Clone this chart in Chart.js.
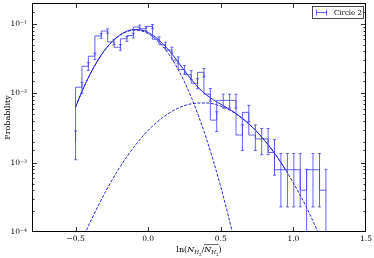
<!DOCTYPE html>
<html>
<head>
<meta charset="utf-8">
<script src="https://cdn.jsdelivr.net/npm/chart.js@4.4.1/dist/chart.umd.min.js"></script>
<style>
  html, body { margin: 0; padding: 0; background: #fff; }
  #wrap { width: 374px; height: 258px; }
</style>
</head>
<body>
<div id="wrap"><canvas id="chart" width="374" height="258"></canvas></div>
<script>
// histogram of ln(N/<N>) : bin position, probability and 1 sigma error
const histX = [-0.500, -0.456, -0.412, -0.367, -0.323, -0.279, -0.235, -0.191, -0.146, -0.102,
               -0.058, -0.014, 0.030, 0.075, 0.119, 0.163, 0.207, 0.251, 0.296, 0.340,
               0.384, 0.428, 0.472, 0.517, 0.561, 0.605, 0.649, 0.693, 0.738, 0.782,
               0.826, 0.870, 0.914, 0.959, 1.003, 1.047, 1.091, 1.135, 1.180, 1.224];
const histY = [0.00198, 0.0122, 0.0245, 0.0342, 0.067, 0.079, 0.055, 0.046, 0.061, 0.068,
               0.090, 0.085, 0.092, 0.060, 0.050, 0.042, 0.030, 0.022, 0.0185, 0.0139,
               0.020, 0.0097, 0.0041, 0.0079, 0.0079, 0.0079, 0.0025, 0.0053, 0.0025, 0.0022,
               0.0022, 0.0014, 0.00079, 0.00079, 0.00079, 0.00079, 0.00040, 0.00079, 0.00079, 0.00040];
const histErr = [0.00088, 0.0022, 0.0031, 0.0037, 0.0051, 0.0056, 0.0047, 0.0043, 0.0049, 0.0052,
                 0.0060, 0.0058, 0.0060, 0.0049, 0.0044, 0.0041, 0.0034, 0.0030, 0.0027, 0.0023,
                 0.0028, 0.0020, 0.0013, 0.0018, 0.0018, 0.0018, 0.0010, 0.0014, 0.0010, 0.0009,
                 0.0009, 0.00074, 0.00056, 0.00056, 0.00056, 0.00056, 0.00040, 0.00056, 0.00056, 0.00040];

// two component fit (solid = sum)
const fitX = [-0.50, -0.45, -0.40, -0.35, -0.30, -0.25, -0.20, -0.15, -0.10, -0.05,
              0.00, 0.05, 0.10, 0.15, 0.20, 0.25, 0.30, 0.35, 0.40, 0.45,
              0.50, 0.55, 0.60, 0.65, 0.70, 0.75, 0.80, 0.85, 0.90, 0.95];
const fitTotal = [0.00636, 0.01138, 0.0189, 0.0291, 0.0417, 0.0553, 0.0681, 0.0779, 0.0828, 0.0817,
                  0.0752, 0.0647, 0.0522, 0.0399, 0.0293, 0.0212, 0.01548, 0.0118, 0.0095, 0.00802,
                  0.00696, 0.00605, 0.00519, 0.00431, 0.00352, 0.00277, 0.00211, 0.00156, 0.00111, 0.000766];
const narrowX = [-0.50, -0.45, -0.40, -0.35, -0.30, -0.25, -0.20, -0.15, -0.10, -0.05, 0.00, 0.05,
                 0.10, 0.15, 0.20, 0.25, 0.30, 0.35, 0.40, 0.45, 0.50, 0.55, 0.60];
const narrowY = [0.00631, 0.0113, 0.01875, 0.0289, 0.0413, 0.0547, 0.0673, 0.0767, 0.0811, 0.0795, 0.0723, 0.0610,
                 0.0477, 0.0346, 0.0233, 0.01455, 0.00842, 0.00452, 0.00225, 0.00104, 0.000446, 0.000177, 0.0000652];
const broadX = [-0.45, -0.40, -0.30, -0.20, -0.10, 0.00, 0.10, 0.20, 0.30, 0.40,
                0.50, 0.60, 0.70, 0.80, 0.90, 1.00, 1.10, 1.20];
const broadY = [0.0000805, 0.000137, 0.00036, 0.000827, 0.00166, 0.00292, 0.00448, 0.00601, 0.00706, 0.00725,
                0.00651, 0.00512, 0.00352, 0.00211, 0.00111, 0.00051, 0.000205, 0.000072];

const legendLabel = 'Circle 2';
const yTitle = 'Probability';

const histColor = 'rgba(70, 70, 245, 0.85)';
const fitColor = 'rgb(35, 35, 225)';
const serif = 'DejaVu Serif';

function pts(xs, ys) {
  return xs.map((x, i) => ({ x: x, y: ys[i] }));
}

const sup = { '-': '\u207b', '0': '\u2070', '1': '\u00b9', '2': '\u00b2', '3': '\u00b3', '4': '\u2074' };

function isDecade(v) {
  const l = Math.log10(v);
  return Math.abs(l - Math.round(l)) < 1e-6;
}

// error bars, frame, inward ticks, legend and x title
const extras = {
  id: 'extras',
  afterDatasetsDraw(chart) {
    const ctx = chart.ctx, a = chart.chartArea;
    const xs = chart.scales.x, ys = chart.scales.y;
    ctx.save();
    ctx.beginPath();
    ctx.rect(a.left, a.top, a.right - a.left, a.bottom - a.top);
    ctx.clip();
    ctx.strokeStyle = histColor;
    ctx.lineWidth = 1;
    histX.forEach((x, i) => {
      const px = xs.getPixelForValue(x);
      const hi = ys.getPixelForValue(histY[i] + histErr[i]);
      const lowVal = histY[i] - histErr[i];
      const lo = lowVal > 0 ? ys.getPixelForValue(lowVal) : a.bottom + 2;
      ctx.beginPath();
      ctx.moveTo(px, hi); ctx.lineTo(px, lo);
      ctx.moveTo(px - 1.5, hi); ctx.lineTo(px + 1.5, hi);
      ctx.moveTo(px - 1.5, lo); ctx.lineTo(px + 1.5, lo);
      ctx.stroke();
    });
    ctx.restore();
  },
  afterDraw(chart) {
    const ctx = chart.ctx, a = chart.chartArea;
    const xs = chart.scales.x, ys = chart.scales.y;
    ctx.save();
    ctx.strokeStyle = '#000';
    ctx.lineWidth = 1;
    ctx.strokeRect(a.left + 0.5, a.top + 0.5, a.right - a.left - 1, a.bottom - a.top - 1);

    ctx.lineWidth = 0.8;
    ctx.beginPath();
    xs.ticks.forEach(t => {
      const px = Math.round(xs.getPixelForValue(t.value)) + 0.5;
      if (px <= a.left + 1 || px >= a.right - 1) return;
      ctx.moveTo(px, a.bottom); ctx.lineTo(px, a.bottom - 5);
      ctx.moveTo(px, a.top); ctx.lineTo(px, a.top + 5);
    });
    ys.ticks.forEach(t => {
      const py = Math.round(ys.getPixelForValue(t.value)) + 0.5;
      if (py < a.top || py > a.bottom) return;
      const len = isDecade(t.value) ? 5 : 2.5;
      ctx.moveTo(a.left, py); ctx.lineTo(a.left + len, py);
      ctx.moveTo(a.right, py); ctx.lineTo(a.right - len, py);
    });
    ctx.stroke();

    // legend
    ctx.fillStyle = '#fff';
    ctx.fillRect(312, 7, 51, 11);
    ctx.strokeStyle = '#222';
    ctx.lineWidth = 0.8;
    ctx.strokeRect(312.5, 6.5, 51, 12);
    ctx.strokeStyle = histColor;
    ctx.lineWidth = 1;
    ctx.beginPath();
    ctx.moveTo(316, 12.5); ctx.lineTo(327, 12.5);
    ctx.moveTo(316.5, 9.5); ctx.lineTo(316.5, 15.5);
    ctx.moveTo(326.5, 9.5); ctx.lineTo(326.5, 15.5);
    ctx.stroke();
    ctx.fillStyle = '#000';
    ctx.font = '7px ' + serif;
    ctx.textBaseline = 'middle';
    ctx.textAlign = 'left';
    ctx.fillText(legendLabel, 334, 12.8);

    // y title
    ctx.save();
    ctx.translate(8, (a.top + a.bottom) / 2);
    ctx.rotate(-Math.PI / 2);
    ctx.textAlign = 'center';
    ctx.font = '8px ' + serif;
    ctx.fillText(yTitle, 0, 0);
    ctx.restore();

    // x title with sub/superscripts
    const runs = [
      { t: 'ln(', f: '8px ' + serif, dy: 0 },
      { t: 'N', f: 'italic 8px ' + serif, dy: 0 },
      { t: 'H', f: 'italic 5.5px ' + serif, dy: 2 },
      { t: '2', f: '4px ' + serif, dy: 3.5 },
      { t: '/', f: '8px ' + serif, dy: 0 },
      { t: 'N', f: 'italic 8px ' + serif, dy: 0, bar: true },
      { t: 'H', f: 'italic 5.5px ' + serif, dy: 2, bar: true },
      { t: '2', f: '4px ' + serif, dy: 3.5, bar: true },
      { t: ')', f: '8px ' + serif, dy: 0 }
    ];
    ctx.textAlign = 'left';
    ctx.textBaseline = 'alphabetic';
    let total = 0;
    runs.forEach(r => { ctx.font = r.f; r.w = ctx.measureText(r.t).width; total += r.w; });
    let cx = (a.left + a.right) / 2 - total / 2;
    const base = 252;
    ctx.strokeStyle = '#000';
    ctx.lineWidth = 0.6;
    runs.forEach(r => {
      ctx.font = r.f;
      ctx.fillText(r.t, cx, base + r.dy);
      if (r.bar) {
        ctx.beginPath();
        ctx.moveTo(cx, base - 7.5); ctx.lineTo(cx + r.w, base - 7.5);
        ctx.stroke();
      }
      cx += r.w;
    });
    ctx.restore();
  }
};

const ctx = document.getElementById('chart').getContext('2d');
new Chart(ctx, {
  type: 'line',
  data: {
    datasets: [
      {
        label: legendLabel,
        data: pts(histX, histY),
        stepped: 'after',
        borderColor: histColor,
        borderWidth: 1,
        pointRadius: 0
      },
      {
        label: 'fit',
        data: pts(fitX, fitTotal),
        borderColor: fitColor,
        borderWidth: 1,
        pointRadius: 0,
        cubicInterpolationMode: 'monotone'
      },
      {
        label: 'narrow',
        data: pts(narrowX, narrowY),
        borderColor: fitColor,
        borderWidth: 1,
        borderDash: [3, 1.5],
        pointRadius: 0,
        cubicInterpolationMode: 'monotone'
      },
      {
        label: 'broad',
        data: pts(broadX, broadY),
        borderColor: fitColor,
        borderWidth: 1,
        borderDash: [3, 1.5],
        pointRadius: 0,
        cubicInterpolationMode: 'monotone'
      }
    ]
  },
  options: {
    responsive: false,
    animation: false,
    devicePixelRatio: 1,
    layout: { padding: { top: 3, right: 8, left: 0, bottom: 0 } },
    plugins: { legend: { display: false }, tooltip: { enabled: false } },
    scales: {
      x: {
        type: 'linear',
        min: -0.8,
        max: 1.5,
        grid: { display: false, drawTicks: false },
        border: { display: false },
        ticks: {
          stepSize: 0.5,
          includeBounds: false,
          autoSkip: false,
          maxRotation: 0,
          padding: 3,
          color: '#000',
          font: { family: serif, size: 7.5 },
          callback: v => v.toFixed(1).replace('-', '\u2212')
        },
        afterFit: s => { s.height = 26; s.paddingLeft = 0; s.paddingRight = 0; }
      },
      y: {
        type: 'logarithmic',
        min: 1e-4,
        max: 0.2,
        grid: { display: false, drawTicks: false },
        border: { display: false },
        ticks: {
          autoSkip: false,
          padding: 5,
          color: '#000',
          font: { family: serif, size: 7.5 },
          callback: v => {
            if (!isDecade(v)) return '';
            const e = String(Math.round(Math.log10(v)));
            return '10' + e.split('').map(c => sup[c]).join('');
          }
        },
        afterFit: s => { s.width = 32; s.paddingTop = 0; s.paddingBottom = 0; }
      }
    }
  },
  plugins: [extras]
});
</script>
</body>
</html>
